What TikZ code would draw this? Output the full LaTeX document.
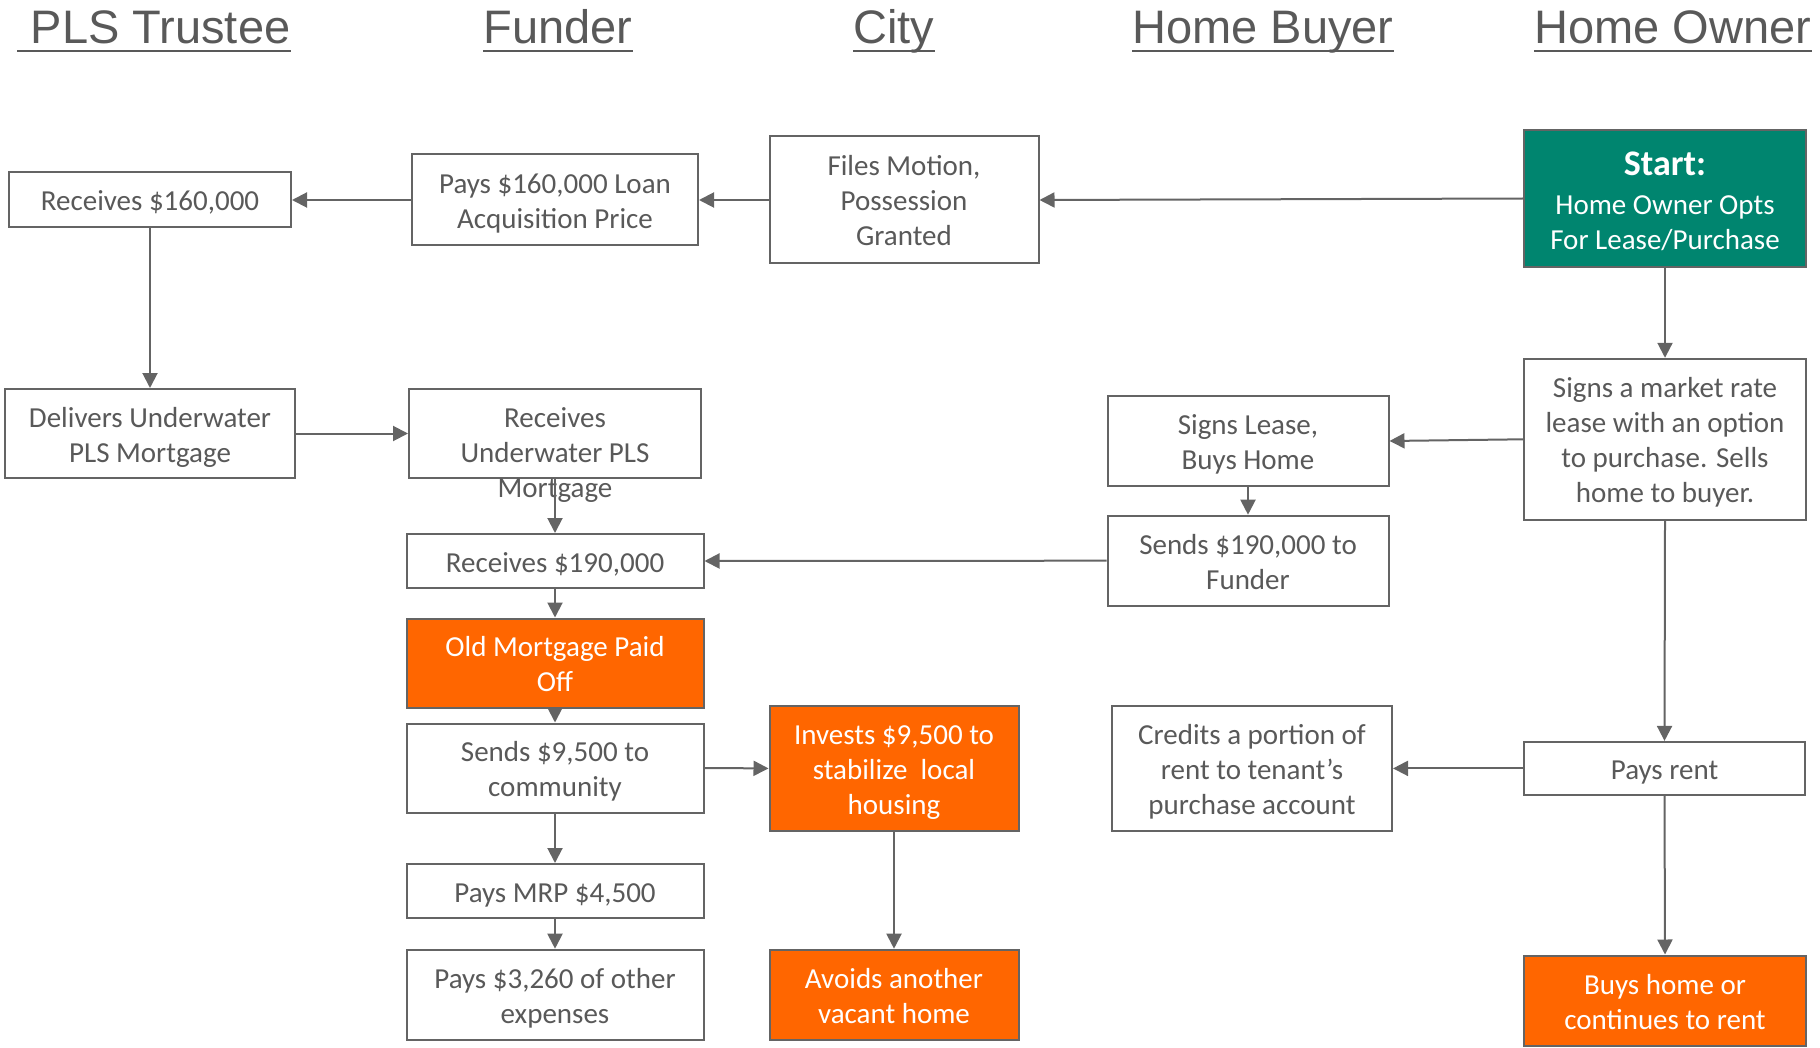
\documentclass[tikz,border=0pt]{standalone}
\usepackage{fontspec}
\setmainfont{Carlito}
\newfontfamily\hdrfont{Liberation Sans}
\usetikzlibrary{arrows.meta}
\definecolor{txtgray}{HTML}{595959}
\definecolor{linegray}{HTML}{646464}
\definecolor{startteal}{HTML}{00856F}
\definecolor{hotorange}{HTML}{FF6600}
% box text: a one-column table, so every line carries the same strut
\newcommand\celltext[2][16.25pt]{\begin{tabular}{@{}c@{}}\rule{0pt}{#1}#2\end{tabular}}
\begin{document}
\begin{tikzpicture}[x=0.5pt,y=-0.5pt,
  sz/.style 2 args={minimum width=#1*0.5pt, minimum height=#2*0.5pt},
  box/.style={draw=linegray, line width=1pt, fill=white, text=txtgray,
    inner sep=0pt, font=\fontsize{14.5}{17.5}\selectfont},
  hot/.style={box, fill=hotorange, text=white},
  startbox/.style={box, fill=startteal, text=white},
  txt/.style={text=txtgray, align=center, inner sep=0pt,
    font=\fontsize{14.5}{17.5}\selectfont},
  hdr/.style={text=txtgray, inner sep=0pt, anchor=base,
    font=\hdrfont\fontsize{23.5}{28}\selectfont},
  uline/.style={draw=txtgray, line width=1.2pt},
  flow/.style={draw=linegray, line width=1pt, -{Triangle[length=7.5pt,width=7.5pt]}},
]
\useasboundingbox (0,0) rectangle (1820,1048);

% column headings
\node[hdr] (hpls)   at (154,44)  {\ PLS Trustee};
\node[hdr] (hfund)  at (558,44)  {Funder};
\node[hdr] (hcity)  at (894,44)  {City};
\node[hdr] (hbuyer) at (1263,44) {Home Buyer};
\node[hdr] (howner) at (1673,44) {Home Owner};
\foreach \h in {hpls,hfund,hcity,hbuyer,howner}
  \draw[uline] ([yshift=-3.5pt]\h.base west) -- ([yshift=-3.5pt]\h.base east);

% PLS Trustee column
\node[box, sz={282}{55}]  (r160)    at (150,200)   {\celltext{Receives \$160,000}};
\node[box, sz={290}{89}]  (deliver) at (150,433.5) {\celltext{Delivers Underwater\\PLS Mortgage}};

% Funder column
\node[box, sz={286}{91}]  (pay160) at (555,200)   {\celltext{Pays \$160,000 Loan\\Acquisition Price}};
\node[box, sz={292}{89}]  (rum)    at (555,433.5) {};
\node[txt]                (rumtxt) at (555,455)   {Receives\\Underwater PLS\\Mortgage};
\node[box, sz={297}{54}]  (r190)   at (555,561)   {\celltext{Receives \$190,000}};
\node[hot, sz={297}{89}]  (old)    at (555,663)   {\celltext{Old Mortgage Paid\\Off}};
\node[box, sz={297}{89}]  (s95)    at (555,768)   {\celltext{Sends \$9,500 to\\community}};
\node[box, sz={297}{54}]  (mrp)    at (555,891)   {\celltext{Pays MRP \$4,500}};
\node[box, sz={297}{90}]  (p3260)  at (555,994.7) {\celltext{Pays \$3,260 of other\\expenses}};

% City column
\node[box, sz={269}{127}] (files)   at (904,200)   {\celltext{Files Motion,\\Possession\\Granted}};
\node[hot, sz={249}{125}] (invests) at (894,768.4) {\celltext{Invests \$9,500 to\\stabilize\ \ local\\housing}};
\node[hot, sz={249}{90}]  (avoids)  at (894,994.7) {\celltext{Avoids another\\vacant home}};

% Home Buyer column
\node[box, sz={281}{90}]  (lease)   at (1248,441)   {\celltext{Signs Lease,\\Buys Home}};
\node[box, sz={281}{90}]  (send190) at (1248,560.7) {\celltext{Sends \$190,000 to\\Funder}};
\node[box, sz={280}{125}] (credits) at (1252,768.4) {\celltext{Credits a portion of\\rent to tenant’s\\purchase account}};

% Home Owner column
\node[startbox, sz={282}{137}] (start) at (1665,198.5)
  {\celltext[19.5pt]{{\fontsize{18}{22}\selectfont\bfseries Start:}\\[2.2pt]Home Owner Opts\\For Lease/Purchase}};
\node[box, sz={282}{161}] (market) at (1665,439.3)
  {\celltext{Signs a market rate\\lease with an option\\to purchase. Sells\\home to buyer.}};
\node[box, sz={281}{53}]  (rent)   at (1664.5,768.4) {\celltext{Pays rent}};
\node[hot, sz={282}{90}]  (buys)   at (1665,1000.5)  {\celltext{Buys home or\\continues to rent}};

% connectors
\draw[flow] (start.west)   -- (files.east);
\draw[flow] (files.west)   -- (pay160.east);
\draw[flow] (pay160.west)  -- (r160.east);
\draw[flow] (r160.south)   -- (deliver.north);
\draw[flow] (deliver.east) -- (rum.west);
\draw[flow] (rum.south)    -- (r190.north);
\draw[flow] (start.south)  -- (market.north);
\draw[flow] (market.west)  -- (lease.east);
\draw[flow] (lease.south)  -- (send190.north);
\draw[flow] (send190.west) -- (r190.east);
\draw[flow] (market.south) -- (rent.north);
\draw[flow] (rent.west)    -- (credits.east);
\draw[flow] (rent.south)   -- (buys.north);
\draw[flow] (r190.south)   -- (old.north);
\draw[flow] (old.south)    -- (s95.north);
\draw[flow] (s95.east)     -- (invests.west);
\draw[flow] (s95.south)    -- (mrp.north);
\draw[flow] (mrp.south)    -- (p3260.north);
\draw[flow] (invests.south) -- (avoids.north);
\end{tikzpicture}
\end{document}
